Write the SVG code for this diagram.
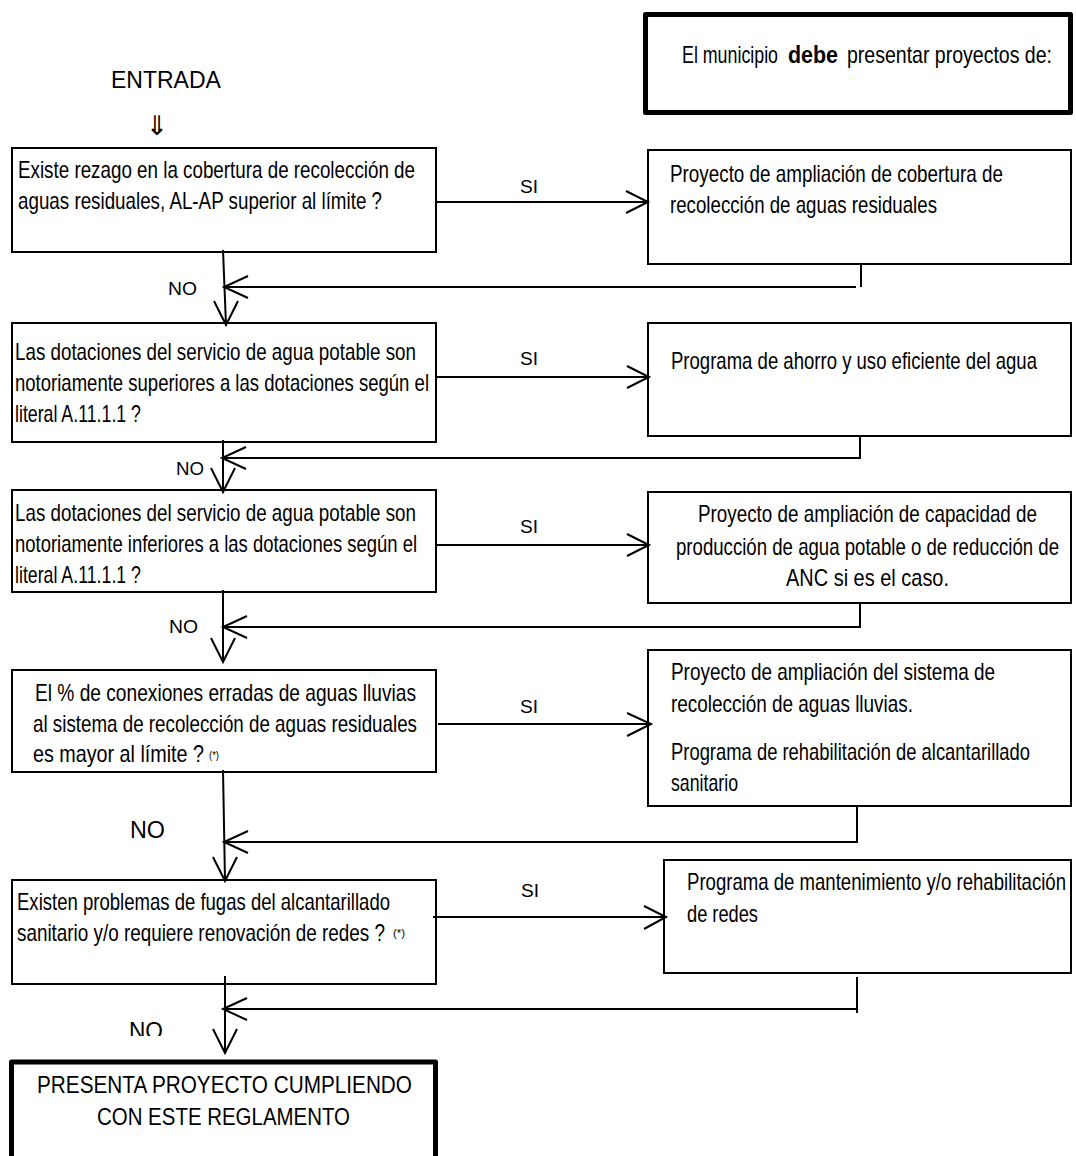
<svg xmlns="http://www.w3.org/2000/svg" width="1076" height="1156" viewBox="0 0 1076 1156">
<style>
.bx{fill:#fff;stroke:#000;stroke-width:2}
.thk{fill:#fff;stroke:#000;stroke-width:5;stroke-linejoin:round}
.ln{fill:none;stroke:#000;stroke-width:2}
.t{font-family:'Liberation Sans Narrow','Liberation Sans',Arial,sans-serif;font-size:24px;fill:#000}
.s{font-family:'Liberation Sans Narrow','Liberation Sans',Arial,sans-serif;font-size:19px;fill:#000}
.w{font-family:'Liberation Sans',Arial,sans-serif;font-size:23px;fill:#000}
.sup{font-family:'Liberation Sans Narrow','Liberation Sans',Arial,sans-serif;font-size:11px;fill:#000}
</style>
<defs>
<clipPath id="cutNO"><rect x="100" y="1000" width="100" height="36"/></clipPath>
</defs>
<rect width="1076" height="1156" fill="#fff"/>

<g id="header">
<rect class="thk" x="645.5" y="14.5" width="425" height="98"/>
<text class="t" x="682" y="63" textLength="96" lengthAdjust="spacingAndGlyphs">El municipio</text>
<text class="t" x="788" y="63" font-weight="bold" textLength="50" lengthAdjust="spacingAndGlyphs">debe</text>
<text class="t" x="847" y="63" textLength="205" lengthAdjust="spacingAndGlyphs">presentar proyectos de:</text>
</g>

<g id="entrada">
<text class="w" x="111" y="88">ENTRADA</text>
<text x="157" y="135" text-anchor="middle" font-family="'DejaVu Sans',sans-serif" font-size="27">⇓</text>
</g>

<g id="q1">
<rect class="bx" x="12" y="148" width="424" height="104"/>
<text class="t" x="18" y="178" textLength="397" lengthAdjust="spacingAndGlyphs">Existe rezago en la cobertura de recolección de</text>
<text class="t" x="18" y="209" textLength="364" lengthAdjust="spacingAndGlyphs">aguas residuales, AL-AP superior al límite ?</text>
</g>

<g id="r1">
<rect class="bx" x="648" y="150" width="423" height="114"/>
<text class="t" x="670" y="182" textLength="333" lengthAdjust="spacingAndGlyphs">Proyecto de ampliación de cobertura de</text>
<text class="t" x="670" y="213" textLength="267" lengthAdjust="spacingAndGlyphs">recolección de aguas residuales</text>
</g>

<g id="q2">
<rect class="bx" x="12" y="323" width="424" height="119"/>
<text class="t" x="15" y="360" textLength="401" lengthAdjust="spacingAndGlyphs">Las dotaciones del servicio de agua potable son</text>
<text class="t" x="15" y="391" textLength="414" lengthAdjust="spacingAndGlyphs">notoriamente superiores a las dotaciones según el</text>
<text class="t" x="15" y="422" textLength="126" lengthAdjust="spacingAndGlyphs">literal A.11.1.1 ?</text>
</g>

<g id="r2">
<rect class="bx" x="648" y="323" width="423" height="113"/>
<text class="t" x="671" y="369" textLength="366" lengthAdjust="spacingAndGlyphs">Programa de ahorro y uso eficiente del agua</text>
</g>

<g id="q3">
<rect class="bx" x="12" y="490" width="424" height="102"/>
<text class="t" x="15" y="521" textLength="401" lengthAdjust="spacingAndGlyphs">Las dotaciones del servicio de agua potable son</text>
<text class="t" x="15" y="552" textLength="402" lengthAdjust="spacingAndGlyphs">notoriamente inferiores a las dotaciones según el</text>
<text class="t" x="15" y="583" textLength="126" lengthAdjust="spacingAndGlyphs">literal A.11.1.1 ?</text>
</g>

<g id="r3">
<rect class="bx" x="648" y="492" width="423" height="111"/>
<text class="t" x="698" y="522" textLength="339" lengthAdjust="spacingAndGlyphs">Proyecto de ampliación de capacidad de</text>
<text class="t" x="676" y="555" textLength="383" lengthAdjust="spacingAndGlyphs">producción de agua potable o de reducción de</text>
<text class="t" x="786" y="586" textLength="163" lengthAdjust="spacingAndGlyphs">ANC si es el caso.</text>
</g>

<g id="q4">
<rect class="bx" x="12" y="670" width="424" height="102"/>
<text class="t" x="35" y="701" textLength="381" lengthAdjust="spacingAndGlyphs">El % de conexiones erradas de aguas lluvias</text>
<text class="t" x="33" y="732" textLength="384" lengthAdjust="spacingAndGlyphs">al sistema de recolección de aguas residuales</text>
<text class="t" x="33" y="762" textLength="171" lengthAdjust="spacingAndGlyphs">es mayor al límite ?</text>
<text class="sup" x="209" y="759" textLength="10" lengthAdjust="spacingAndGlyphs">(*)</text>
</g>

<g id="r4">
<rect class="bx" x="648" y="650" width="423" height="156"/>
<text class="t" x="671" y="680" textLength="324" lengthAdjust="spacingAndGlyphs">Proyecto de ampliación del sistema de</text>
<text class="t" x="671" y="712" textLength="242" lengthAdjust="spacingAndGlyphs">recolección de aguas lluvias.</text>
<text class="t" x="671" y="760" textLength="359" lengthAdjust="spacingAndGlyphs">Programa de rehabilitación de alcantarillado</text>
<text class="t" x="671" y="791" textLength="67" lengthAdjust="spacingAndGlyphs">sanitario</text>
</g>

<g id="q5">
<rect class="bx" x="12" y="880" width="424" height="104"/>
<text class="t" x="17" y="910" textLength="373" lengthAdjust="spacingAndGlyphs">Existen problemas de fugas del alcantarillado</text>
<text class="t" x="17" y="941" textLength="368" lengthAdjust="spacingAndGlyphs">sanitario y/o requiere renovación de redes ?</text>
<text class="sup" x="393" y="937" textLength="12" lengthAdjust="spacingAndGlyphs">(*)</text>
</g>

<g id="r5">
<rect class="bx" x="664" y="860" width="407" height="113"/>
<text class="t" x="687" y="890" textLength="379" lengthAdjust="spacingAndGlyphs">Programa de mantenimiento y/o rehabilitación</text>
<text class="t" x="687" y="922" textLength="71" lengthAdjust="spacingAndGlyphs">de redes</text>
</g>

<g id="final">
<rect class="thk" x="11.5" y="1062" width="424" height="120"/>
<text class="t" x="37" y="1093" font-size="22" textLength="375" lengthAdjust="spacingAndGlyphs">PRESENTA PROYECTO CUMPLIENDO</text>
<text class="t" x="97" y="1125" font-size="22" textLength="253" lengthAdjust="spacingAndGlyphs">CON ESTE REGLAMENTO</text>
</g>

<g id="connectors">
<path class="ln" d="M437 202H648M626 191L648 202L626 213"/>
<path class="ln" d="M437 377H649M627 366L649 377L627 388"/>
<path class="ln" d="M437 545H649M627 534L649 545L627 556"/>
<path class="ln" d="M438 724H651M627 713L651 724L627 736"/>
<path class="ln" d="M433 917H666M644 906L666 917L644 929"/>
<path class="ln" d="M861 264V287M856 287H224M248 276L224 287L248 298"/>
<path class="ln" d="M860 436V458H222M246 447L222 458L246 469"/>
<path class="ln" d="M860 603V627H223M247 616L223 627L247 638"/>
<path class="ln" d="M857 806V842H224M248 831L224 842L248 853"/>
<path class="ln" d="M857 977V1013M857 1009H223M247 998L223 1009L247 1020"/>
<path class="ln" d="M223 250L226 325M214 301L226 325L238 301"/>
<path class="ln" d="M223 440V492M211 468L223 492L235 468"/>
<path class="ln" d="M223 590V662M211 638L223 662L235 638"/>
<path class="ln" d="M223 770L225 881M213 857L225 881L237 857"/>
<path class="ln" d="M225 976V1053M213 1029L225 1053L237 1029"/>
<text class="s" x="520" y="193" textLength="18" lengthAdjust="spacingAndGlyphs">SI</text>
<text class="s" x="520" y="365" textLength="18" lengthAdjust="spacingAndGlyphs">SI</text>
<text class="s" x="520" y="533" textLength="18" lengthAdjust="spacingAndGlyphs">SI</text>
<text class="s" x="520" y="713" textLength="18" lengthAdjust="spacingAndGlyphs">SI</text>
<text class="s" x="521" y="897" textLength="18" lengthAdjust="spacingAndGlyphs">SI</text>
<text class="s" x="168" y="295" font-size="21" textLength="29" lengthAdjust="spacingAndGlyphs">NO</text>
<text class="s" x="176" y="475" font-size="21" textLength="28" lengthAdjust="spacingAndGlyphs">NO</text>
<text class="s" x="169" y="633" font-size="21" textLength="29" lengthAdjust="spacingAndGlyphs">NO</text>
<text class="w" x="130" y="838" font-size="22" textLength="35" lengthAdjust="spacingAndGlyphs">NO</text>
<text class="w" x="129" y="1039" font-size="22" textLength="34" lengthAdjust="spacingAndGlyphs" clip-path="url(#cutNO)">NO</text>
</g>
</svg>
